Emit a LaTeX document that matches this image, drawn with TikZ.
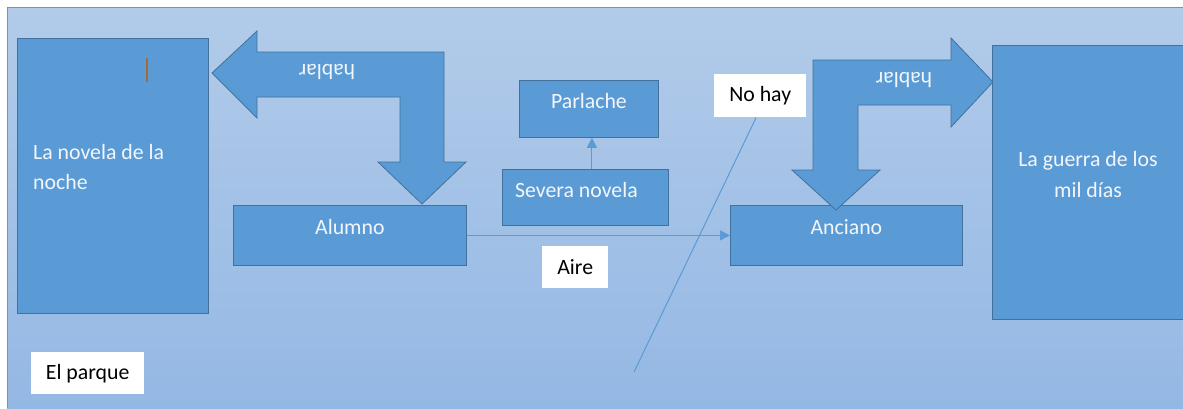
\documentclass[tikz,border=0pt]{standalone}
\usepackage{fontspec}
\setmainfont{Carlito}
\usetikzlibrary{arrows.meta}
\definecolor{boxblue}{RGB}{91,155,213}
\definecolor{edgeblue}{RGB}{65,113,156}
\definecolor{bgtop}{RGB}{178,203,233}
\definecolor{bgbot}{RGB}{148,184,228}
\definecolor{textwhite}{RGB}{242,246,251}
\definecolor{cursor}{RGB}{165,105,60}

\begin{document}
\begin{tikzpicture}[x=1pt, y=-1pt, font=\fontsize{21.8}{31}\selectfont,
        box/.style = {draw=edgeblue, fill=boxblue, line width=0.8pt, anchor=north west, inner sep=0pt},
        boxtext/.style = {text=textwhite, inner sep=0pt},
        tag/.style = {fill=white, text=black, anchor=north west, inner sep=0pt},
        bentarrow/.style = {draw=edgeblue, fill=boxblue, line width=0.8pt},
        link/.style = {draw=boxblue, line width=1pt, -{Triangle[width=10pt,length=10pt]}}]
    \useasboundingbox (0,0) rectangle (1183,408);
    \fill[white] (0,0) rectangle (1183,408);
    \shade[top color=bgtop, bottom color=bgbot] (7,7) rectangle (1183,408);
    \draw[boxblue, line width=1pt] (7,408) -- (7,7) -- (1183,7);

    % boxes
    \node[box, minimum width=191pt, minimum height=275pt] (novela) at (17,38) {};
    \node[box, minimum width=233pt, minimum height=60pt] (alumno) at (233,205) {};
    \node[box, minimum width=139pt, minimum height=57pt] (parlache) at (519,80) {};
    \node[box, minimum width=166pt, minimum height=56pt] (severa) at (502,169) {};
    \node[box, minimum width=232pt, minimum height=60pt] (anciano) at (730,205) {};
    \node[box, minimum width=191pt, minimum height=274pt] (guerra) at (992,45) {};

    \node[boxtext, anchor=west, align=left] (novelatxt) at (33,167) {La novela de la\\noche};
    \node[boxtext] (alumnotxt) at ([yshift=8pt]alumno.center) {Alumno};
    \node[boxtext] (parlachetxt) at ([yshift=8pt]parlache.center) {Parlache};
    \node[boxtext, anchor=west] (severatxt) at (515,190) {Severa novela};
    \node[boxtext] (ancianotxt) at ([yshift=8pt]anciano.center) {Anciano};
    \node[boxtext, align=center] (guerratxt) at (1088,175) {La guerra de los\\mil días};

    % white tags
    \node[tag, minimum width=66pt, minimum height=42pt] (aire) at (542,246) {Aire};
    \node[tag, minimum width=92pt, minimum height=43pt] (nohay) at (714,74) {No hay};
    \node[tag, minimum width=113pt, minimum height=42pt] (parque) at (31,352) {El parque};

    % bent arrows
    \filldraw[bentarrow] (212,73) -- (257,31) -- (257,52) -- (444,52) -- (444,162) -- (466,162)
        -- (422,204) -- (378,162) -- (400,162) -- (400,97) -- (257,97) -- (257,118) -- cycle;
    \filldraw[bentarrow] (813,60) -- (951,60) -- (951,38) -- (993,82) -- (951,127) -- (951,105)
        -- (858,105) -- (858,170) -- (880,170) -- (836,210) -- (792,170) -- (813,170) -- cycle;
    \node[boxtext, rotate=180] (habla1) at (327,72) {hablar};
    \node[boxtext, rotate=180] (habla2) at (904,80) {hablar};

    % links
    \draw[link] ([xshift=3pt]parlache.south |- severa.north) -- ([xshift=3pt]parlache.south);
    \draw[link] (alumno.east) -- (anciano.west);
    \coordinate (lend) at (634,372);
    \draw[boxblue, line width=1pt] ([xshift=-4pt]nohay.south) -- (lend);

    \draw[cursor, line width=1.5pt] (147,58) -- (147,82);
\end{tikzpicture}
\end{document}
